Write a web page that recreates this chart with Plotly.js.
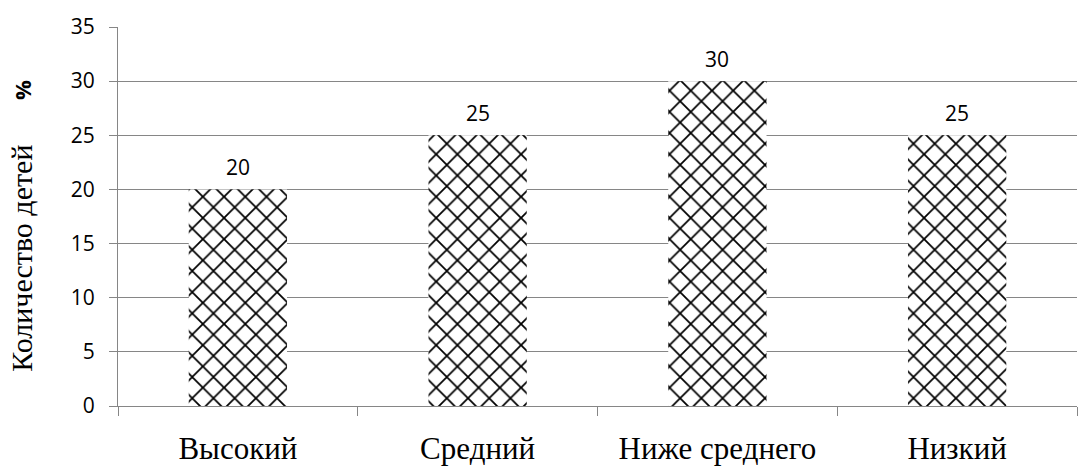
<!DOCTYPE html>
<html>
<head>
<meta charset="utf-8">
<script src="https://cdn.plot.ly/plotly-3.0.1.min.js"></script>
<style>html,body{margin:0;padding:0;background:#fff;}#chart{width:1079px;height:468px;}</style>
</head>
<body>
<div id="chart"></div>
<script>
var categories = ["Высокий", "Средний", "Ниже среднего", "Низкий"];
var values = [20, 25, 30, 25];
var yTicks = [0, 5, 10, 15, 20, 25, 30, 35];
var yTitle = "Количество детей";
var yUnit = "%";

var SERIF = "'Times New Roman', 'Liberation Serif', serif";
var SANS = "'Open Sans', sans-serif";

var trace = {
  type: "bar",
  x: categories,
  y: values,
  width: 0.41,
  marker: {
    color: "#ffffff",
    line: {width: 0},
    pattern: {shape: "x", fgcolor: "#000000", bgcolor: "#ffffff", size: 15, solidity: 0.22, fillmode: "replace"}
  },
  hoverinfo: "none"
};

var annotations = categories.map(function(c, i) {
  return {x: c, y: values[i], xref: "x", yref: "y", text: String(values[i]), showarrow: false,
    yshift: 22, font: {family: SANS, size: 21, color: "#000"}};
});
annotations.push({x: -0.1005, y: 0.39, xref: "paper", yref: "paper", xanchor: "center", yanchor: "middle",
  text: yTitle, textangle: -90,
  showarrow: false, font: {family: SERIF, size: 30, color: "#000"}});
annotations.push({x: -0.1, y: 0.834, xref: "paper", yref: "paper", xanchor: "center", yanchor: "middle",
  text: "<b>" + yUnit + "</b>", textangle: -90,
  showarrow: false, font: {family: SANS, size: 22, color: "#000"}});

var layout = {
  width: 1079, height: 468,
  margin: {l: 118, r: 2, t: 27, b: 62},
  paper_bgcolor: "#fff", plot_bgcolor: "#fff",
  showlegend: false,
  bargap: 0.59,
  xaxis: {
    type: "category",
    tickson: "boundaries",
    ticks: "outside", ticklen: 9, tickcolor: "#868686", tickwidth: 1,
    showline: true, linecolor: "#868686", linewidth: 1,
    showgrid: false,
    tickfont: {family: SERIF, size: 31, color: "#000"},
    ticklabelstandoff: 15,
    fixedrange: true
  },
  yaxis: {
    range: [0, 35],
    tickvals: yTicks,
    ticks: "outside", ticklen: 8, tickcolor: "#868686", tickwidth: 1,
    showline: true, linecolor: "#868686", linewidth: 1,
    showgrid: true, gridcolor: "#868686", gridwidth: 1,
    zeroline: false,
    tickfont: {family: SANS, size: 21, color: "#000"},
    ticklabelstandoff: 10,
    fixedrange: true
  },
  annotations: annotations
};

Plotly.newPlot("chart", [trace], layout, {displayModeBar: false, staticPlot: true});
</script>
</body>
</html>
